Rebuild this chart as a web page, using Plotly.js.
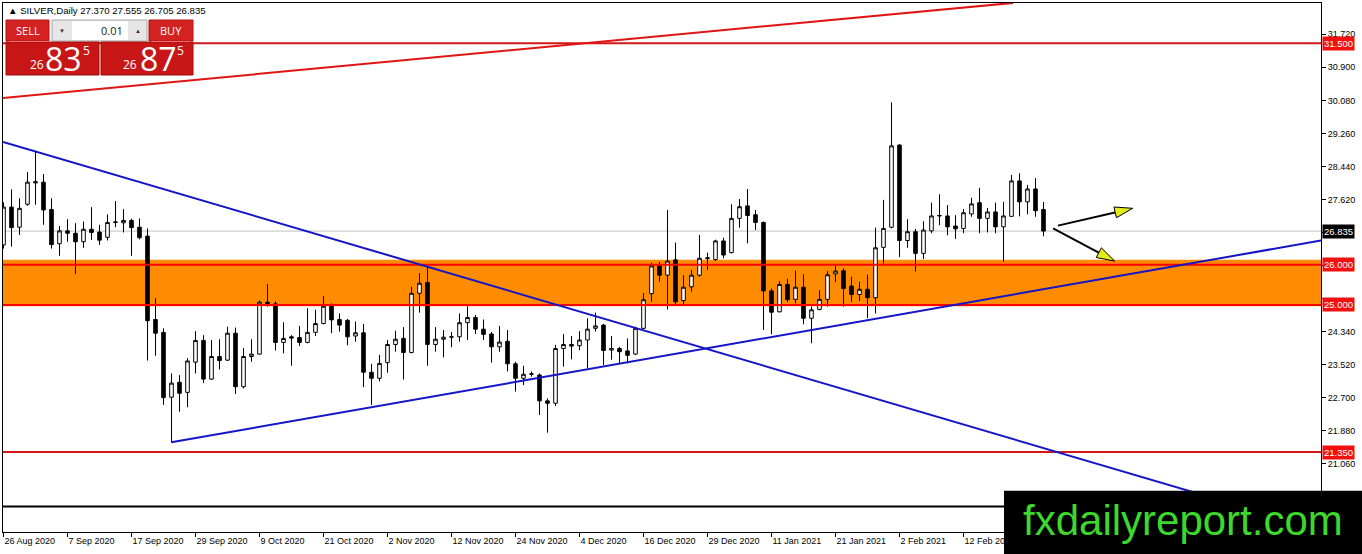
<!DOCTYPE html>
<html><head><meta charset="utf-8">
<script src="https://cdn.plot.ly/plotly-3.0.1.min.js"></script>
<style>html,body{margin:0;padding:0;background:#fff;overflow:hidden}#chart{width:1362px;height:554px}</style>
</head><body><div id="chart"></div>
<script>
// ---------- DATA ----------
const dates = [
"2020-08-26","2020-08-27","2020-08-28","2020-08-31",
"2020-09-01","2020-09-02","2020-09-03","2020-09-04","2020-09-07","2020-09-08","2020-09-09","2020-09-10","2020-09-11",
"2020-09-14","2020-09-15","2020-09-16","2020-09-17","2020-09-18","2020-09-21","2020-09-22","2020-09-23","2020-09-24","2020-09-25",
"2020-09-28","2020-09-29","2020-09-30",
"2020-10-01","2020-10-02","2020-10-05","2020-10-06","2020-10-07","2020-10-08","2020-10-09","2020-10-12","2020-10-13","2020-10-14",
"2020-10-15","2020-10-16","2020-10-19","2020-10-20","2020-10-21","2020-10-22","2020-10-23","2020-10-26","2020-10-27","2020-10-28",
"2020-10-29","2020-10-30",
"2020-11-02","2020-11-03","2020-11-04","2020-11-05","2020-11-06","2020-11-09","2020-11-10","2020-11-11","2020-11-12","2020-11-13",
"2020-11-16","2020-11-17","2020-11-18","2020-11-19","2020-11-20","2020-11-23","2020-11-24","2020-11-25","2020-11-26","2020-11-27",
"2020-11-30",
"2020-12-01","2020-12-02","2020-12-03","2020-12-04","2020-12-07","2020-12-08","2020-12-09","2020-12-10","2020-12-11","2020-12-14",
"2020-12-15","2020-12-16","2020-12-17","2020-12-18","2020-12-21","2020-12-22","2020-12-23","2020-12-24","2020-12-28","2020-12-29",
"2020-12-30","2020-12-31",
"2021-01-04","2021-01-05","2021-01-06","2021-01-07","2021-01-08","2021-01-11","2021-01-12","2021-01-13","2021-01-14","2021-01-15",
"2021-01-18","2021-01-19","2021-01-20","2021-01-21","2021-01-22","2021-01-25","2021-01-26","2021-01-27","2021-01-28","2021-01-29",
"2021-02-01","2021-02-02","2021-02-03","2021-02-04","2021-02-05","2021-02-08","2021-02-09","2021-02-10","2021-02-11","2021-02-12",
"2021-02-15","2021-02-16","2021-02-17","2021-02-18","2021-02-19","2021-02-22","2021-02-23","2021-02-24","2021-02-25","2021-02-26"
];
const openP = [
26.49,27.43,26.93,27.50,28.03,28.05,27.37,26.52,26.84,26.78,26.57,26.88,26.81,26.68,27.05,27.04,27.10,26.93,26.71,24.64,
24.32,22.71,23.08,22.83,23.58,24.12,23.16,23.72,23.63,24.30,22.97,23.72,23.78,25.07,25.03,24.07,24.21,24.19,24.07,24.32,
24.54,24.97,24.64,24.62,24.23,24.31,23.33,23.18,23.57,24.02,24.17,23.82,25.29,25.56,24.02,24.15,24.20,24.21,24.56,24.69,
24.40,24.28,23.96,24.10,23.54,23.18,23.28,23.26,22.62,22.56,23.92,24.02,23.99,24.13,24.42,24.50,23.88,23.92,23.86,23.78,
24.42,25.28,25.97,25.74,26.12,25.11,25.45,25.74,26.15,26.13,26.59,26.30,27.15,27.46,27.24,27.05,25.35,24.83,25.51,25.14,
25.44,24.67,24.89,25.14,25.77,25.85,25.47,25.26,25.39,25.18,26.43,26.93,28.97,26.60,26.82,26.28,26.84,27.21,27.21,26.96,
26.90,27.26,27.54,27.15,27.31,26.94,27.20,28.08,27.56,27.88,27.37
];
const highP = [
27.55,27.87,27.65,28.30,28.83,28.25,27.65,26.96,27.13,27.03,27.07,27.43,26.99,27.25,27.58,27.38,27.14,27.15,26.90,25.17,
24.42,23.30,23.26,23.68,24.35,24.25,24.13,24.15,24.46,24.44,23.93,24.15,25.11,25.52,25.09,24.57,24.25,24.48,24.92,24.88,
25.22,25.04,24.79,24.65,24.59,24.53,23.54,23.76,24.13,24.36,24.45,25.45,25.79,25.97,24.45,24.38,24.33,24.79,24.97,24.75,
24.64,24.33,24.48,24.38,23.59,23.49,23.35,23.30,22.68,24.01,24.28,24.23,24.35,24.67,24.81,24.53,24.23,23.96,24.17,24.46,
25.30,26.05,26.07,27.36,26.55,25.74,25.87,26.74,26.30,26.62,26.67,27.50,27.63,27.88,27.36,27.07,25.41,25.59,25.65,25.85,
25.76,24.96,25.37,25.84,25.98,25.91,25.70,25.58,25.75,26.92,27.61,30.03,28.99,27.13,26.89,27.08,27.54,27.75,27.48,27.23,
27.38,27.66,27.91,27.41,27.54,27.56,28.23,28.27,27.98,28.15,27.555
];
const lowP = [
26.40,26.45,26.74,27.46,27.49,26.99,26.40,26.22,26.57,25.77,26.42,26.61,26.49,26.60,26.93,26.80,26.22,26.63,23.62,23.74,
22.52,21.59,22.35,22.46,23.30,23.06,23.14,23.40,23.61,22.79,22.93,23.59,23.77,24.96,23.87,23.80,23.49,23.98,24.05,24.23,
24.52,24.30,24.34,24.00,24.09,22.96,22.52,23.10,23.32,23.84,23.15,23.80,24.81,23.49,23.84,23.70,23.95,24.09,24.13,24.28,
24.13,23.57,23.84,23.35,22.85,23.01,23.22,22.27,21.83,22.49,23.47,23.65,23.88,23.43,24.34,23.51,23.64,23.55,23.55,23.76,
24.40,25.08,25.58,24.89,25.02,25.02,25.33,25.70,25.87,26.09,26.16,26.28,26.92,26.53,26.86,24.38,24.27,24.82,25.07,25.04,
24.52,24.05,24.87,24.96,25.57,24.96,25.08,25.10,24.67,24.79,26.03,26.90,26.19,26.42,25.83,26.14,26.78,26.98,26.73,26.64,
26.78,27.19,26.78,26.80,26.78,26.07,27.20,27.20,27.25,27.19,26.705
];
const closeP = [
27.43,26.92,27.40,28.05,28.06,27.36,26.50,26.84,26.78,26.57,26.88,26.80,26.61,27.05,27.06,27.10,26.92,26.67,24.61,24.30,
22.70,23.06,22.81,23.61,24.12,23.16,23.72,23.62,24.30,22.97,23.72,23.78,25.07,25.03,24.07,24.17,24.18,24.07,24.32,24.54,
24.97,24.63,24.50,24.21,24.31,23.33,23.18,23.55,24.02,24.15,23.82,25.29,25.54,24.02,24.15,24.20,24.21,24.56,24.69,24.40,
24.27,23.96,24.08,23.54,23.18,23.28,23.29,22.62,22.56,23.92,24.02,23.98,24.13,24.40,24.48,23.87,23.92,23.84,23.75,24.42,
25.13,25.97,25.74,26.09,25.08,25.44,25.74,26.16,26.17,26.59,26.24,27.15,27.44,27.22,27.05,25.35,24.82,25.51,25.13,25.44,
24.67,24.88,25.14,25.75,25.84,25.41,25.26,25.39,25.18,26.42,26.90,28.95,26.60,26.82,26.28,26.86,27.21,27.22,26.94,26.89,
27.29,27.51,27.15,27.31,26.94,27.21,28.08,27.56,27.88,27.34,26.835
];
const tickDates = ["2020-08-26","2020-09-07","2020-09-17","2020-09-29","2020-10-09","2020-10-21","2020-11-02","2020-11-12",
"2020-11-24","2020-12-04","2020-12-16","2020-12-29","2021-01-11","2021-01-21","2021-02-02","2021-02-12"];
const tickLabels = ["26 Aug 2020","7 Sep 2020","17 Sep 2020","29 Sep 2020","9 Oct 2020","21 Oct 2020","2 Nov 2020","12 Nov 2020",
"24 Nov 2020","4 Dec 2020","16 Dec 2020","29 Dec 2020","11 Jan 2021","21 Jan 2021","2 Feb 2021","12 Feb 2021"];
const priceTicks = [31.72,30.90,30.08,29.26,28.44,27.62,26.80,25.98,25.16,24.34,23.52,22.70,21.88,21.06];
// tick labels covered by the price boxes in the reference
const hiddenTicks = [26.80, 25.98, 25.16];
const redLevels = [31.5, 26.0, 25.0, 21.35];
const blackLevel = 20.0;
const bidPrice = 26.835;
const zone = [24.97, 26.12];
// trend lines: [barIndex0, price0, barIndex1, price1]
const redTrend = [-0.0625, 30.14, 126.2, 32.50];
const blueDown = [-0.0625, 29.05, 164.69, 19.42];
const blueUp = [20.98, 21.59, 164.69, 26.60];
// arrows: [barIndex0, price0, barIndex1, price1]
const arrowUp = [131.8, 26.97, 141.15, 27.40];
const arrowDown = [131.2, 26.90, 138.9, 26.09];
const headerText = "▲ SILVER,Daily 27.370 27.555 26.705 26.835";
const sellParts = ["26","83","5"];
const buyParts = ["26","87","5"];
const lotText = "0.01";
const watermark = "fxdailyreport.com";

// ---------- GEOMETRY ----------
const W=1362, H=554, M={l:3,r:41,t:3,b:22};
const PW=W-M.l-M.r, PH=H-M.t-M.b;
const xRange=[-0.0625, 164.6875], yRange=[19.364, 32.497];
const pxX = xd => M.l + (xd-xRange[0])/(xRange[1]-xRange[0])*PW;
const pxY = yd => M.t + (yRange[1]-yd)/(yRange[1]-yRange[0])*PH;
const paperX = p => (p-M.l)/PW;
const paperY = p => (M.t+PH-p)/PH;

const FONT = "Liberation Sans, Arial, sans-serif";
const UIFONT = "Open Sans, Noto Sans, sans-serif";

const shapes = [];
const annotations = [];

// zone
shapes.push({type:'rect', xref:'paper', yref:'y', x0:0, x1:1, y0:zone[0], y1:zone[1],
  fillcolor:'#ff8c00', line:{width:0}, layer:'below'});
// bid line
shapes.push({type:'line', xref:'paper', yref:'y', x0:0, x1:1, y0:bidPrice, y1:bidPrice,
  line:{color:'#c0c0c0', width:1}, layer:'below'});
// levels
redLevels.forEach((v,i)=>{
  shapes.push({type:'line', xref:'paper', yref:'y', x0:0, x1:1, y0:v, y1:v,
    line:{color: i===0||i===3 ? '#d01818' : '#ff0000', width:2}, layer:'above'});
});
shapes.push({type:'line', xref:'paper', yref:'y', x0:0, x1:1, y0:blackLevel, y1:blackLevel,
  line:{color:'#000000', width:2}, layer:'above'});
// trend lines
function tl(a, color){
  shapes.push({type:'line', xref:'x', yref:'y', x0:a[0], y0:a[1], x1:a[2], y1:a[3],
    line:{color:color, width:2}, layer:'above'});
}
tl(redTrend, '#e01414');
tl(blueDown, '#1414c8');
tl(blueUp, '#1414c8');

// arrows
function arrow(a){
  const sx=pxX(a[0]), sy=pxY(a[1]), tx=pxX(a[2]), ty=pxY(a[3]);
  const len=Math.hypot(tx-sx, ty-sy), dx=(tx-sx)/len, dy=(ty-sy)/len;
  const L=18, w=5.5;
  const bx=tx-L*dx, by=ty-L*dy, nx=-dy, ny=dx;
  shapes.push({type:'line', xref:'paper', yref:'paper', x0:paperX(sx), y0:paperY(sy), x1:paperX(bx+2*dx), y1:paperY(by+2*dy),
    line:{color:'#000', width:2}, layer:'above'});
  const p = `M ${paperX(tx)},${paperY(ty)} L ${paperX(bx+w*nx)},${paperY(by+w*ny)} L ${paperX(bx-w*nx)},${paperY(by-w*ny)} Z`;
  shapes.push({type:'path', xref:'paper', yref:'paper', path:p, fillcolor:'#e2ec1c', line:{color:'#000', width:1}, layer:'above'});
}
arrow(arrowUp);
arrow(arrowDown);

// axis price boxes
function priceBox(v, bg){
  annotations.push({xref:'paper', yref:'y', x:1, y:v, xanchor:'left', yanchor:'middle', xshift:1,
    text:v.toFixed(3), showarrow:false, bgcolor:bg, borderpad:1,
    font:{family:FONT, size:9.5, color:'#ffffff'}});
}
redLevels.forEach(v=>priceBox(v, '#f01010'));
priceBox(bidPrice, '#000000');

// header
annotations.push({xref:'paper', yref:'paper', x:paperX(6), y:paperY(10), xanchor:'left', yanchor:'middle',
  text:headerText, showarrow:false, font:{family:FONT, size:9.6, color:'#000'}});

// trade panel
function rectPx(x0,y0,x1,y1,fill,lc,lw){
  shapes.push({type:'rect', xref:'paper', yref:'paper', x0:paperX(x0), x1:paperX(x1), y0:paperY(y1), y1:paperY(y0),
    fillcolor:fill, line:{color:lc||fill, width:lw||0}, layer:'above'});
}
function textPx(cx,cy,txt,size,color,anchor){
  annotations.push({xref:'paper', yref:'paper', x:paperX(cx), y:paperY(cy), xanchor:anchor||'center', yanchor:'middle',
    text:txt, showarrow:false, font:{family:UIFONT, size:size, color:color}});
}
rectPx(6,20,49,41,'#d42222','#b01010',1);
rectPx(52,20,147,41,'#e6e6e6','#a8a8a8',1);
rectPx(72,21,128,40,'#ffffff','#ffffff',0);
rectPx(149,20,193,41,'#d42222','#b01010',1);
rectPx(6,42,99,75,'#c81616','#a00c0c',1);
rectPx(101,42,193,75,'#c81616','#a00c0c',1);
shapes.push({type:'line', xref:'paper', yref:'paper', x0:paperX(9), x1:paperX(49), y0:paperY(41.5), y1:paperY(41.5), line:{color:'#f07070', width:1}, layer:'above'});
shapes.push({type:'line', xref:'paper', yref:'paper', x0:paperX(152), x1:paperX(190), y0:paperY(41.5), y1:paperY(41.5), line:{color:'#f07070', width:1}, layer:'above'});
textPx(27.5,30.5,'SELL',11,'#ffffff');
textPx(171,30.5,'BUY',11,'#ffffff');
textPx(62,30.5,'▼',6,'#333333');
textPx(137.5,30.5,'▲',6,'#333333');
textPx(125,30.5,lotText,11,'#222222','right');
textPx(36.5,64.5,sellParts[0],12,'#ffffff');
textPx(63,58,sellParts[1],32,'#ffffff');
textPx(86.5,51,sellParts[2],12,'#ffffff');
textPx(130.3,64.5,buyParts[0],12,'#ffffff');
textPx(158.3,58,buyParts[1],32,'#ffffff');
textPx(180.3,51,buyParts[2],12,'#ffffff');

// watermark
rectPx(1004,490.7,1363,555,'#000000','#000000',0);
textPx(1182.5,520,watermark,42,'#3cd82c');
annotations[annotations.length-1].font.family = FONT;

// ---------- TRACE ----------
const trace = {
  type:'candlestick', x:dates, open:openP, high:highP, low:lowP, close:closeP,
  increasing:{line:{color:'#000000', width:1}, fillcolor:'#ffffff'},
  decreasing:{line:{color:'#000000', width:1}, fillcolor:'#000000'},
  whiskerwidth:0, hoverinfo:'skip', showlegend:false
};

const layout = {
  width:W, height:H, margin:M, paper_bgcolor:'#ffffff', plot_bgcolor:'#ffffff',
  showlegend:false, boxgap:0.36,
  xaxis:{type:'category', range:xRange, rangeslider:{visible:false}, showgrid:false, zeroline:false,
    showline:true, linecolor:'#000', linewidth:1, mirror:true,
    tickmode:'array', tickvals:tickDates, ticktext:tickLabels, ticks:'outside', ticklen:4, tickcolor:'#000',
    ticklabelposition:'outside right', tickfont:{family:FONT, size:9, color:'#000'}, fixedrange:true},
  yaxis:{side:'right', range:yRange, showgrid:false, zeroline:false, showline:true, linecolor:'#000', linewidth:1, mirror:true,
    tickmode:'array', tickvals:priceTicks,
    ticktext:priceTicks.map(v=>hiddenTicks.includes(v) ? '' : v.toFixed(3)), ticks:'outside', ticklen:4, tickcolor:'#000',
    tickfont:{family:FONT, size:9, color:'#000'}, fixedrange:true},
  shapes:shapes, annotations:annotations
};

Plotly.newPlot('chart', [trace], layout, {staticPlot:true, displayModeBar:false});
</script></body></html>
